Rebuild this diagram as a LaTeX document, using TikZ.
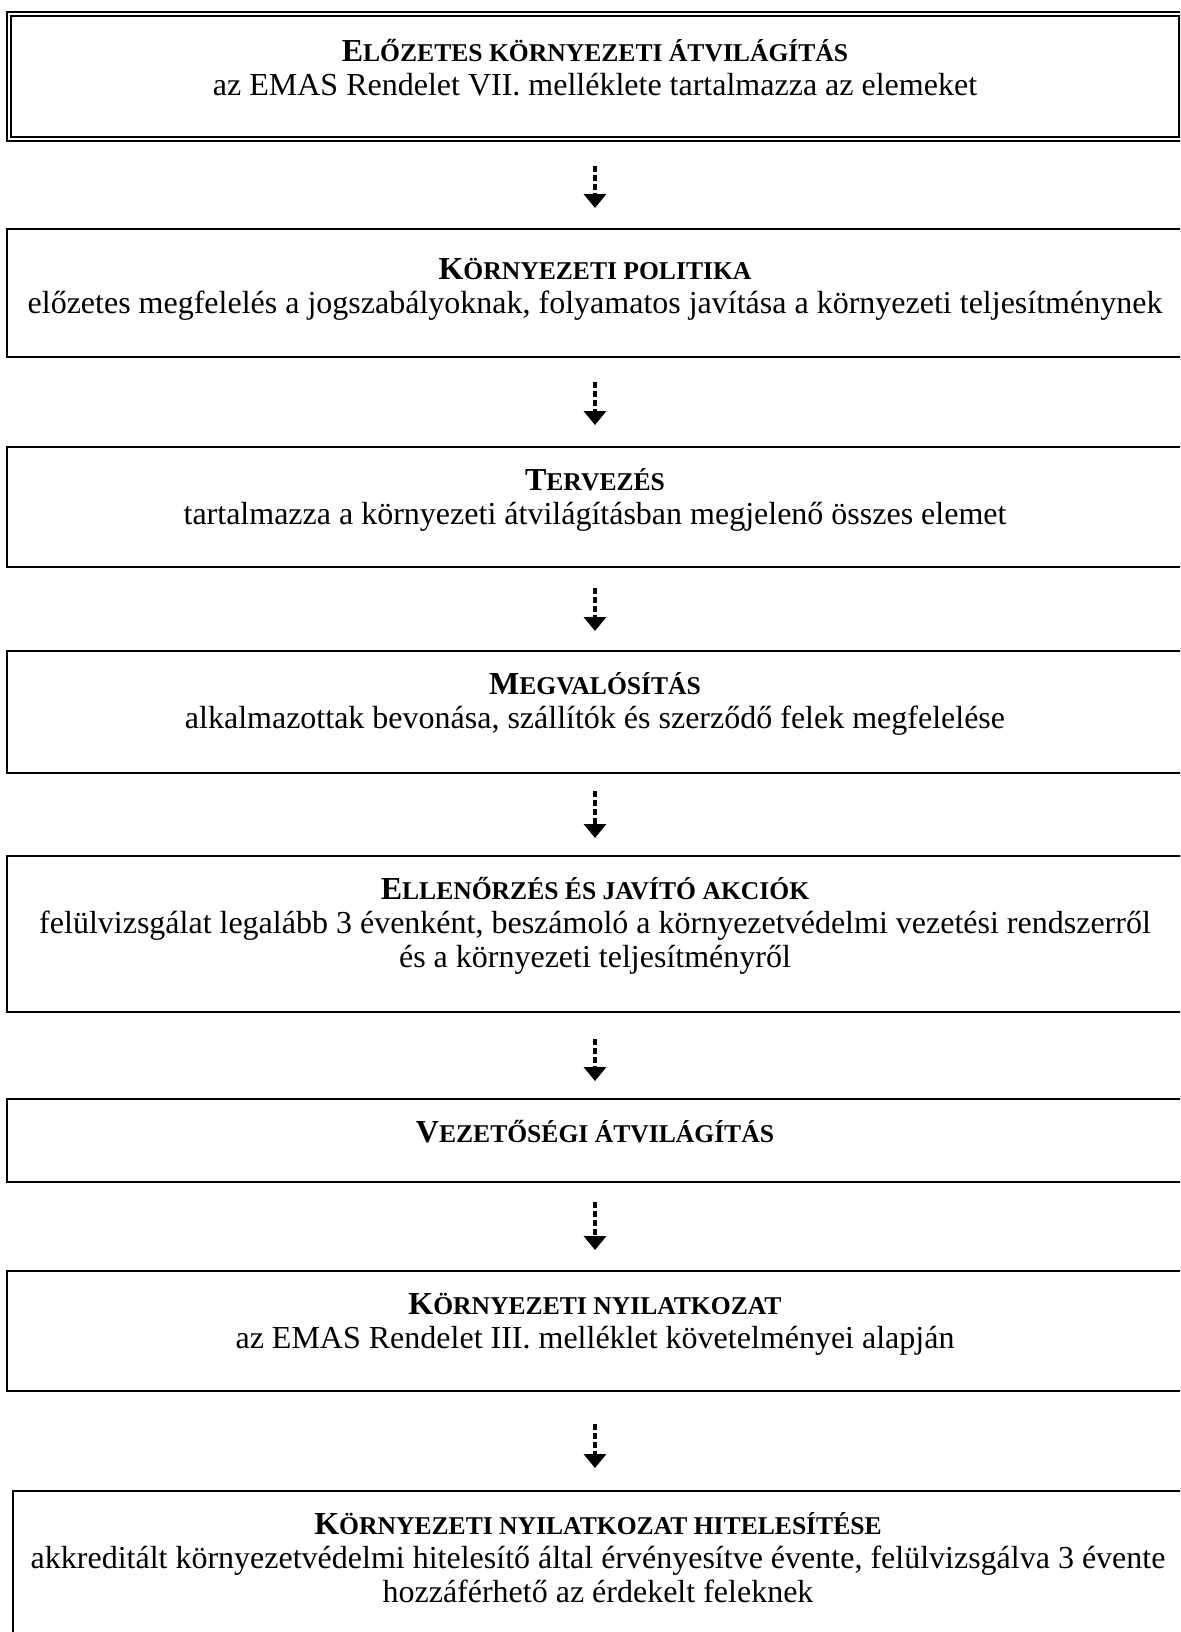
\documentclass[tikz,border=0pt]{standalone}
\usepackage{fontspec}
\setmainfont{Liberation Serif}
\usetikzlibrary{arrows.meta}
\newcommand\tsc[2]{\textbf{{\fontsize{16}{17}\selectfont #1}{\fontsize{12.8}{17}\selectfont #2}}}
\newcommand\bx[3]{\parbox[c][#1][t]{580pt}{\centering\vspace*{#2}\rule{0pt}{15pt}#3}}
\begin{document}
\begin{tikzpicture}[x=0.5pt,y=-0.5pt,
  box/.style={draw, line width=1.1pt, minimum width=588pt, inner sep=0pt,
    align=center, font=\fontsize{16}{17}\selectfont, anchor=north},
  dbox/.style={box, line width=0.9pt, double, double distance=1pt, minimum width=586pt},
  arr/.style={line width=2pt, dash pattern=on 3pt off 1.5pt,
    -{Triangle[width=11pt,length=7pt]}}]
\useasboundingbox (0,0) rectangle (1180,1632);
\clip (0,0) rectangle (1180,1632);
\node[dbox] (b1) at (595,13)
  {\bx{62.5pt}{9pt}{\tsc{E}{LŐZETES KÖRNYEZETI ÁTVILÁGÍTÁS}\\az EMAS Rendelet VII. melléklete tartalmazza az elemeket}};
\node[box] (b2) at (595,228)
  {\bx{64pt}{10pt}{\tsc{K}{ÖRNYEZETI POLITIKA}\\előzetes megfelelés a jogszabályoknak, folyamatos javítása a környezeti teljesítménynek}};
\node[box] (b3) at (595,446)
  {\bx{60pt}{6.7pt}{\tsc{T}{ERVEZÉS}\\tartalmazza a környezeti átvilágításban megjelenő összes elemet}};
\node[box] (b4) at (595,650)
  {\bx{61pt}{6.7pt}{\tsc{M}{EGVALÓSÍTÁS}\\alkalmazottak bevonása, szállítók és szerződő felek megfelelése}};
\node[box] (b5) at (595,855)
  {\bx{78pt}{6.7pt}{\tsc{E}{LLENŐRZÉS ÉS JAVÍTÓ AKCIÓK}\\felülvizsgálat legalább 3 évenként, beszámoló a környezetvédelmi vezetési rendszerről\\és a környezeti teljesítményről}};
\node[box] (b6) at (595,1098)
  {\bx{41.5pt}{6.7pt}{\tsc{V}{EZETŐSÉGI ÁTVILÁGÍTÁS}}};
\node[box] (b7) at (595,1270)
  {\bx{60pt}{6.7pt}{\tsc{K}{ÖRNYEZETI NYILATKOZAT}\\az EMAS Rendelet III. melléklet követelményei alapján}};
\node[box, minimum width=585pt] (b8) at (598,1490)
  {\bx{82pt}{6.7pt}{\tsc{K}{ÖRNYEZETI NYILATKOZAT HITELESÍTÉSE}\\akkreditált környezetvédelmi hitelesítő által érvényesítve évente, felülvizsgálva 3 évente\\hozzáférhető az érdekelt feleknek}};
\draw[arr, shorten <=13pt, shorten >=10pt] (b1) -- (b2);
\draw[arr, shorten <=12pt, shorten >=10.5pt] (b2) -- (b3);
\draw[arr, shorten <=10pt, shorten >=9.5pt] (b3) -- (b4);
\draw[arr, shorten <=8.5pt, shorten >=8.5pt] (b4) -- (b5);
\draw[arr, shorten <=13pt, shorten >=8.5pt] (b5) -- (b6);
\draw[arr, shorten <=9.5pt, shorten >=10pt] (b6) -- (b7);
\draw[arr, shorten <=16pt, shorten >=11pt] (b7.south) -- (b7.south |- b8.north);
\end{tikzpicture}
\end{document}
